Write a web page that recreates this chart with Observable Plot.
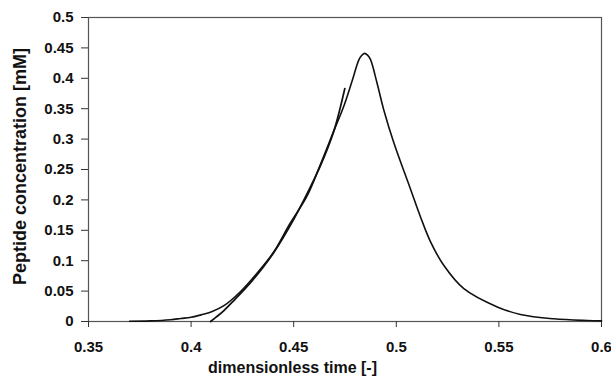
<!DOCTYPE html>
<html><head><meta charset="utf-8">
<script src="https://cdn.jsdelivr.net/npm/d3@7"></script>
<script src="https://cdn.jsdelivr.net/npm/@observablehq/plot@0.6"></script>
<style>body{margin:0;background:#fff}</style>
</head><body><div id="chart"></div>
<script>
// Measured peptide concentration curve
const tMeasured = [0.37, 0.38, 0.39, 0.395, 0.40, 0.405, 0.41, 0.416, 0.424, 0.432, 0.44, 0.448, 0.4566, 0.4631, 0.4696, 0.4745, 0.4785, 0.4817, 0.483, 0.4845, 0.486, 0.4874, 0.4907, 0.4939, 0.4988, 0.5069, 0.5118, 0.5167, 0.5232, 0.5329, 0.5492, 0.5605, 0.5768, 0.593, 0.6];
const cMeasured = [0.0003, 0.001, 0.003, 0.005, 0.007, 0.011, 0.016, 0.026, 0.049, 0.079, 0.113, 0.16, 0.207, 0.259, 0.314, 0.355, 0.396, 0.43, 0.437, 0.441, 0.438, 0.431, 0.391, 0.348, 0.294, 0.218, 0.172, 0.131, 0.092, 0.054, 0.024, 0.0115, 0.0044, 0.0016, 0.001];
// Fitted (model) rising branch
const tFit = [0.4095, 0.4125, 0.416, 0.4207, 0.43, 0.44, 0.45, 0.46, 0.465, 0.47, 0.4749];
const cFit = [0.0, 0.008, 0.018, 0.034, 0.068, 0.112, 0.168, 0.234, 0.272, 0.318, 0.383];
// Axis ticks
const xTicks = [0.35, 0.4, 0.45, 0.5, 0.55, 0.6];
const xTickLabels = ["0.35", "0.4", "0.45", "0.5", "0.55", "0.6"];
const yTicks = [0, 0.05, 0.1, 0.15, 0.2, 0.25, 0.3, 0.35, 0.4, 0.45, 0.5];
const yTickLabels = ["0", "0.05", "0.1", "0.15", "0.2", "0.25", "0.3", "0.35", "0.4", "0.45", "0.5"];
const xTitle = "dimensionless time [-]";
const yTitle = "Peptide concentration [mM]";

const measured = tMeasured.map((t, i) => ({t, c: cMeasured[i]}));
const fit = tFit.map((t, i) => ({t, c: cFit[i]}));

const font = "'Liberation Sans', Arial, sans-serif";
const chart = Plot.plot({
  width: 611, height: 380,
  marginLeft: 88, marginRight: 10, marginTop: 17, marginBottom: 59,
  style: {fontFamily: font, fontWeight: "bold", fontSize: "15px", background: "#fff", color: "#111"},
  x: {domain: [0.35, 0.6]},
  y: {domain: [0, 0.5]},
  marks: [
    Plot.frame({stroke: "#555", strokeWidth: 1.2}),
    Plot.axisX({ticks: xTicks, tickFormat: d => xTickLabels[xTicks.indexOf(d)], tickSize: 6, tickPadding: 14, label: null, stroke: "#333", fontSize: 15, fontWeight: "bold", fill: "#111"}),
    Plot.axisY({ticks: yTicks, tickFormat: d => yTickLabels[yTicks.indexOf(d)], tickSize: 7, tickPadding: 8, label: null, stroke: "#333", fontSize: 15, fontWeight: "bold", fill: "#111"}),
    Plot.line(measured, {x: "t", y: "c", curve: "catmull-rom", stroke: "#111", strokeWidth: 1.6}),
    Plot.line(fit, {x: "t", y: "c", curve: "catmull-rom", stroke: "#111", strokeWidth: 1.8}),
    Plot.text([xTitle], {frameAnchor: "bottom-left", textAnchor: "middle", dx: 204, dy: 51, fontSize: 16, fontWeight: "bold", fill: "#111"}),
    Plot.text([yTitle], {frameAnchor: "left", textAnchor: "middle", rotate: -90, dx: -68, dy: -3, fontSize: 18, fontWeight: "bold", fill: "#111"})
  ]
});
document.getElementById("chart").appendChild(chart);
</script>
</body></html>
